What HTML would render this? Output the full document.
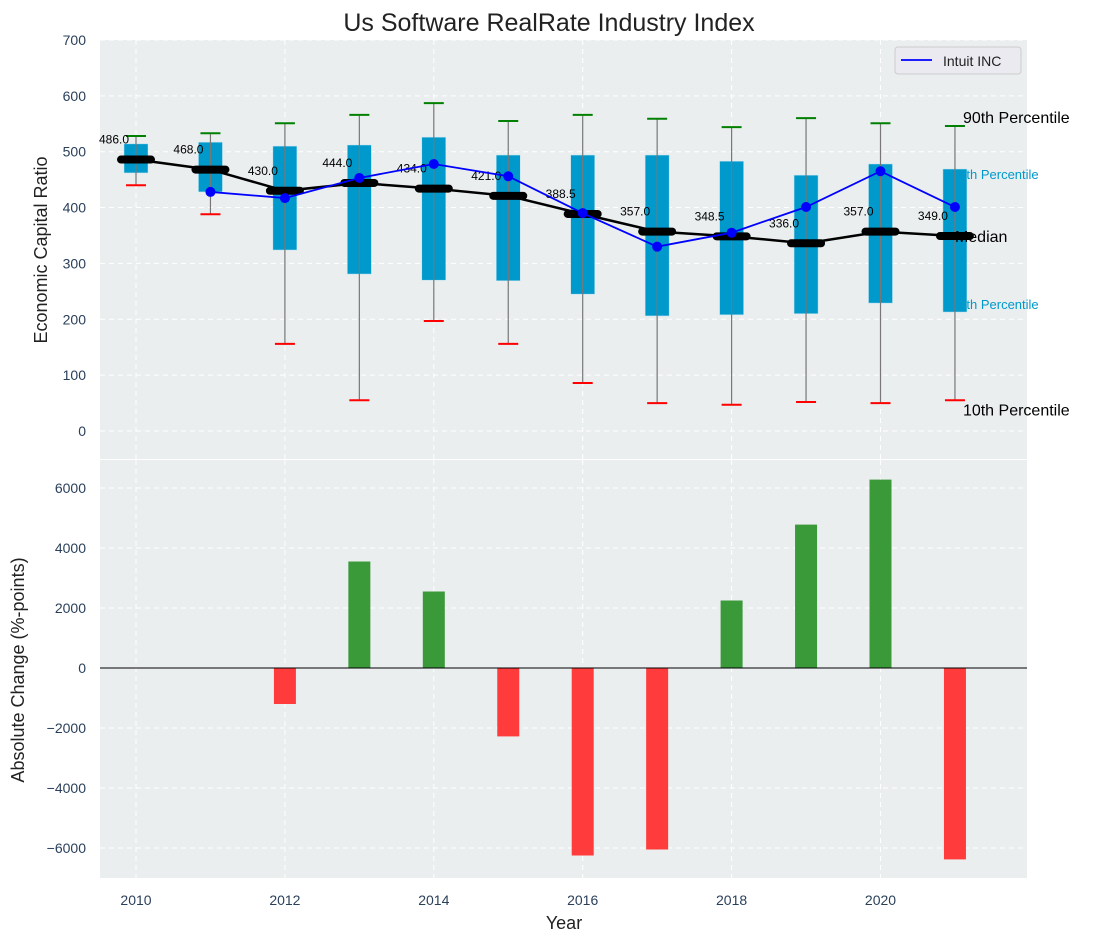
<!DOCTYPE html>
<html><head><meta charset="utf-8"><style>
html,body{margin:0;padding:0;background:#fff;width:1098px;height:942px;overflow:hidden}
svg{font-family:"Liberation Sans","DejaVu Sans",sans-serif}
</style></head><body>
<svg id="c" width="1098" height="942"></svg>
<script>
const years=[2010,2011,2012,2013,2014,2015,2016,2017,2018,2019,2020,2021];
const p10=[440,388,156,55,197,156,86,50,47,52,50,55];
const p25=[462,428,324,281,270,269,245,206,208,210,229,213];
const median=[486,468,430,444,434,421,388.5,357,348.5,336,357,349];
const p75=[514,517,510,512,526,494,494,494,483,458,478,469];
const p90=[528,533,551,566,587,555,566,559,544,560,551,546];
const intuitYears=[2011,2012,2013,2014,2015,2016,2017,2018,2019,2020,2021];
const intuit=[428,417,453,478,456,390,330,355,401,465,401];
const changes=[0,0,-1200,3550,2550,-2280,-6250,-6050,2250,4780,6280,-6380];
const topTicks=[0,100,200,300,400,500,600,700];
const botTicks=[-6000,-4000,-2000,0,2000,4000,6000];
const xTicks=[2010,2012,2014,2016,2018,2020];

const NS="http://www.w3.org/2000/svg";
const svg=document.getElementById('c');
function el(t,a,parent){const e=document.createElementNS(NS,t);for(const k in a)e.setAttribute(k,a[k]);(parent||svg).appendChild(e);return e;}
const L=100,R=1027;
const X=y=>136+(y-2010)*74.45;
const YT=v=>431-v*0.5586;
const YB=v=>668-v*0.03;
const TT=40,TB=459,BT=460,BB=878;

let e;
e=el('rect',{x:L,y:TT,width:R-L,height:TB-TT,fill:'#eaeeef'});

e=el('rect',{x:L,y:BT,width:R-L,height:BB-BT,fill:'#eaeeef'});


xTicks.forEach(t=>{
 el('line',{x1:X(t),x2:X(t),y1:TT,y2:TB,stroke:'#fff','stroke-dasharray':'5,4','stroke-width':1});
 el('line',{x1:X(t),x2:X(t),y1:BT,y2:BB,stroke:'#fff','stroke-dasharray':'5,4','stroke-width':1});
 e=el('text',{x:X(t),y:905,'font-size':14,fill:'#2a3f5a','text-anchor':'middle'});e.textContent=t;
 
});
topTicks.forEach(t=>{
 el('line',{x1:L,x2:R,y1:YT(t),y2:YT(t),stroke:'#fff','stroke-dasharray':'5,4','stroke-width':1});
 e=el('text',{x:86,y:YT(t)+5,'font-size':14,fill:'#2a3f5a','text-anchor':'end'});e.textContent=t;
 
});
botTicks.forEach(t=>{
 el('line',{x1:L,x2:R,y1:YB(t),y2:YB(t),stroke:'#fff','stroke-dasharray':'5,4','stroke-width':1});
 e=el('text',{x:86,y:YB(t)+5,'font-size':14,fill:'#2a3f5a','text-anchor':'end'});e.textContent=t.toString().replace('-','\u2212');
 
});

const lastY=X(2021);
e=el('text',{x:lastY-3,y:YT(p75[11])+10,'font-size':13,fill:'#0099cc'});e.textContent='75th Percentile';

e=el('text',{x:lastY-3,y:YT(p25[11])-3,'font-size':13,fill:'#0099cc'});e.textContent='25th Percentile';


years.forEach((y,i)=>{
 const x=X(y);
 e=el('rect',{x:x-12,y:YT(p75[i]),width:24,height:YT(p25[i])-YT(p75[i]),fill:'#0099cc',stroke:'#bfe3ef','stroke-width':0.5});
 
 e=el('line',{x1:x,x2:x,y1:YT(p10[i]),y2:YT(p90[i]),stroke:'#777','stroke-width':1.2});
 
 e=el('line',{x1:x-10,x2:x+10,y1:YT(p90[i]),y2:YT(p90[i]),stroke:'green','stroke-width':2});
 
 e=el('line',{x1:x-10,x2:x+10,y1:YT(p10[i]),y2:YT(p10[i]),stroke:'red','stroke-width':2});
 
});
e=el('polyline',{points:years.map((y,i)=>X(y)+','+YT(median[i])).join(' '),fill:'none',stroke:'#000','stroke-width':2.5});

years.forEach((y,i)=>{
 e=el('line',{x1:X(y)-15,x2:X(y)+15,y1:YT(median[i]),y2:YT(median[i]),stroke:'#000','stroke-width':8,'stroke-linecap':'round'});
 
 e=el('text',{x:X(y)-22,y:YT(median[i])-16,'font-size':12,fill:'#000','text-anchor':'middle'});e.textContent=median[i].toFixed(1);
 
});
e=el('polyline',{points:intuitYears.map((y,i)=>X(y)+','+YT(intuit[i])).join(' '),fill:'none',stroke:'#0000ff','stroke-width':1.8});

intuitYears.forEach((y,i)=>{
 e=el('circle',{cx:X(y),cy:YT(intuit[i]),r:5,fill:'#0000ff'});
 
});
e=el('text',{x:lastY+8,y:YT(p90[11])-3,'font-size':16,fill:'#000'});e.textContent='90th Percentile';

e=el('text',{x:lastY,y:YT(median[11])+6,'font-size':16,fill:'#000'});e.textContent='Median';

e=el('text',{x:lastY+8,y:YT(p10[11])+15,'font-size':16,fill:'#000'});e.textContent='10th Percentile';


e=el('rect',{x:895,y:47,width:126,height:27,rx:3,fill:'#eaeaf0',stroke:'#ccc'});

el('line',{x1:901,x2:932,y1:60,y2:60,stroke:'#0000ff','stroke-width':1.8});
e=el('text',{x:943,y:66,'font-size':14,fill:'#222'});e.textContent='Intuit INC';


years.forEach((y,i)=>{
 const v=changes[i];if(v===0)return;
 e=el('rect',{x:X(y)-11,y:Math.min(YB(v),YB(0)),width:22,height:Math.abs(YB(v)-YB(0)),fill:v>0?'#3a9a3a':'#ff3b3b'});
 
});
el('line',{x1:L,x2:R,y1:YB(0),y2:YB(0),stroke:'#000','stroke-width':1});

e=el('text',{x:549,y:31,'font-size':25,fill:'#222','text-anchor':'middle'});e.textContent='Us Software RealRate Industry Index';

e=el('text',{x:564,y:929,'font-size':18,fill:'#222','text-anchor':'middle'});e.textContent='Year';

e=el('text',{x:0,y:0,'font-size':18,fill:'#222','text-anchor':'middle',transform:'translate(47,250) rotate(-90)'});e.textContent='Economic Capital Ratio';

e=el('text',{x:0,y:0,'font-size':18,fill:'#222','text-anchor':'middle',transform:'translate(24,670) rotate(-90)'});e.textContent='Absolute Change (%-points)';

</script>
</body></html>
